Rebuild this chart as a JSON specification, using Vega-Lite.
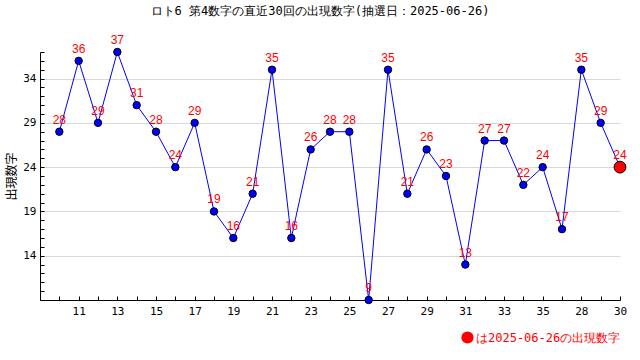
{
  "$schema": "https://vega.github.io/schema/vega-lite/v6.json",
  "width": 580,
  "height": 248,
  "autosize": {"type": "none"},
  "padding": {"left": 40, "top": 52, "right": 20, "bottom": 60},
  "background": "white",
  "config": {"view": {"stroke": null}},
  "title": {
    "text": "ロト6 第4数字の直近30回の出現数字(抽選日：2025-06-26)",
    "font": "DejaVu Sans Mono",
    "fontSize": 12,
    "fontWeight": "normal",
    "color": "black",
    "anchor": "middle",
    "dx": -10,
    "offset": 16
  },
  "data": {
    "values": [
      {"i": 1, "n": 28}, {"i": 2, "n": 36}, {"i": 3, "n": 29}, {"i": 4, "n": 37}, {"i": 5, "n": 31},
      {"i": 6, "n": 28}, {"i": 7, "n": 24}, {"i": 8, "n": 29}, {"i": 9, "n": 19}, {"i": 10, "n": 16},
      {"i": 11, "n": 21}, {"i": 12, "n": 35}, {"i": 13, "n": 16}, {"i": 14, "n": 26}, {"i": 15, "n": 28},
      {"i": 16, "n": 28}, {"i": 17, "n": 9}, {"i": 18, "n": 35}, {"i": 19, "n": 21}, {"i": 20, "n": 26},
      {"i": 21, "n": 23}, {"i": 22, "n": 13}, {"i": 23, "n": 27}, {"i": 24, "n": 27}, {"i": 25, "n": 22},
      {"i": 26, "n": 24}, {"i": 27, "n": 17}, {"i": 28, "n": 35}, {"i": 29, "n": 29}, {"i": 30, "n": 24}
    ]
  },
  "encoding": {
    "x": {
      "field": "i",
      "type": "quantitative",
      "scale": {"domain": [0, 30], "nice": false, "zero": false},
      "axis": {
        "title": null,
        "grid": false,
        "values": [1,2,3,4,5,6,7,8,9,10,11,12,13,14,15,16,17,18,19,20,21,22,23,24,25,26,27,28,29,30],
        "labelExpr": "['','','11','','13','','15','','17','','19','','21','','23','','25','','27','','29','','31','','33','','35','','28','','30'][datum.value]",
        "tickSize": -4,
        "tickColor": "black",
        "domainColor": "black",
        "labelFont": "DejaVu Sans Mono",
        "labelFontSize": 11,
        "labelColor": "black",
        "labelPadding": 9,
        "labelOverlap": false,
        "labelFlush": false
      }
    },
    "y": {
      "field": "n",
      "type": "quantitative",
      "scale": {"domain": [9, 37], "nice": false, "zero": false},
      "axis": {
        "title": "出現数字",
        "titleFont": "Noto Sans CJK JP",
        "titleFontSize": 12,
        "titleFontWeight": "normal",
        "titleColor": "black",
        "titlePadding": 4,
        "values": [9,10,11,12,13,14,15,16,17,18,19,20,21,22,23,24,25,26,27,28,29,30,31,32,33,34,35,36,37],
        "labelExpr": "(datum.value >= 14 && datum.value <= 34 && (datum.value - 14) % 5 == 0) ? datum.label : ''",
        "grid": true,
        "gridColor": "#d8d8d8",
        "gridOpacity": {"condition": {"test": "datum.value >= 14 && datum.value <= 34 && (datum.value - 14) % 5 == 0", "value": 1}, "value": 0},
        "tickSize": -4,
        "tickColor": "black",
        "domainColor": "black",
        "labelFont": "DejaVu Sans Mono",
        "labelFontSize": 11,
        "labelColor": "black",
        "labelPadding": 8,
        "labelOverlap": false
      }
    }
  },
  "layer": [
    {"mark": {"type": "line", "color": "#0000ff", "strokeWidth": 1}},
    {"mark": {"type": "point", "filled": true, "fill": "#0000ff", "stroke": "black", "strokeWidth": 1, "size": 55, "opacity": 1}},
    {
      "transform": [{"filter": "datum.i == 30"}],
      "mark": {"type": "point", "filled": true, "stroke": "black", "strokeWidth": 1, "size": 140, "opacity": 1},
      "encoding": {
        "color": {
          "datum": "は2025-06-26の出現数字",
          "scale": {"range": ["#ff0000"]},
          "legend": {
            "title": null,
            "orient": "none",
            "legendX": 421,
            "legendY": 279,
            "symbolType": "circle",
            "symbolSize": 150,
            "symbolStrokeWidth": 0,
            "labelColor": "#ff0000",
            "labelFont": "DejaVu Sans Mono",
            "labelFontSize": 12,
            "labelOffset": 2
          }
        }
      }
    },
    {
      "mark": {"type": "text", "color": "#ff0000", "dy": -5, "baseline": "bottom", "font": "Liberation Sans", "fontSize": 12},
      "encoding": {"text": {"field": "n", "type": "quantitative"}}
    }
  ]
}
